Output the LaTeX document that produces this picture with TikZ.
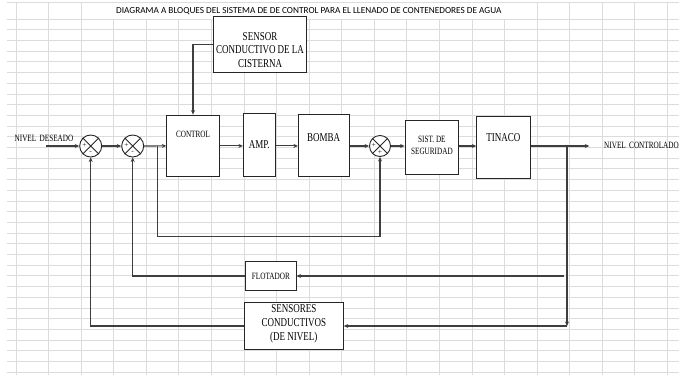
\documentclass[tikz,border=0pt]{standalone}
\usepackage{fontspec}
\setmainfont{Liberation Serif}
\newfontfamily\cnd[FakeStretch=0.75]{Liberation Serif}
\newfontfamily\ttl{Carlito}
\usetikzlibrary{arrows.meta,calc}
\definecolor{gridc}{RGB}{218,220,223}
\definecolor{linec}{RGB}{62,62,62}
\begin{document}
\begin{tikzpicture}[x=1pt,y=-1pt,
  blk/.style={draw=black!85,line width=0.9pt,inner sep=0pt,fill=white},
  lbl/.style={font=\cnd\fontsize{12}{13.6}\selectfont,align=center,inner sep=0pt},
  sml/.style={font=\cnd\fontsize{9.6}{12.2}\selectfont,align=center,inner sep=0pt},
  sumj/.style={draw=black!85,line width=0.9pt,circle,minimum size=22pt,inner sep=0pt,fill=white},
  conn/.style={draw=linec,line width=1.1pt},
  arr/.style={conn,-{Stealth[length=4.5pt,width=4pt]}},
  sgn/.style={font=\fontsize{7.5}{7.5}\selectfont,inner sep=0pt,text=black!90}
]
\fill[white] (0,0) rectangle (679,375);
\useasboundingbox (0,0) rectangle (679,375);
% spreadsheet grid
\draw[gridc,line width=0.8pt] (7,2.7) -- (679,2.7);
\foreach \k in {0,...,33} \draw[gridc,line width=0.8pt] (7,19+10.7*\k) -- (679,19+10.7*\k);
\foreach \k in {0,1,2} \draw[gridc,line width=0.8pt] (16+32.57*\k,2.7) -- (16+32.57*\k,375);
\foreach \k in {3,...,15} \draw[gridc,line width=0.8pt] (16+32.57*\k,19) -- (16+32.57*\k,375);
\foreach \k in {16,...,20} \draw[gridc,line width=0.8pt] (16+32.57*\k,2.7) -- (16+32.57*\k,375);
% title
\fill[white] (110,4) rectangle (505,18);
\node[font=\ttl\fontsize{9.25}{10}\selectfont,inner sep=0pt] (title) at (308.8,11.5)
  {DIAGRAMA A BLOQUES DEL SISTEMA DE DE CONTROL PARA EL LLENADO DE CONTENEDORES DE AGUA};
% blocks
\node[blk,minimum width=93.4pt,minimum height=56pt] (sensor) at (260,44.7) {};
\node[lbl] (sensort) at (260,49.7) {SENSOR\\CONDUCTIVO DE LA\\CISTERNA};
\node[blk,minimum width=52.6pt,minimum height=61.7pt] (control) at (193,145.9) {};
\node[sml] (controlt) at (193,134.3) {CONTROL};
\node[blk,minimum width=32pt,minimum height=63.4pt] (amp) at (259.3,145) {};
\node[lbl] (ampt) at (259.3,145) {AMP.};
\node[blk,minimum width=50.7pt,minimum height=62.4pt] (bomba) at (323.7,145.5) {};
\node[lbl] (bombat) at (323.7,137.3) {BOMBA};
\node[blk,minimum width=53.7pt,minimum height=53.3pt] (sist) at (431.9,147.4) {};
\node[sml] (sistt) at (431.9,145.5) {SIST. DE\\SEGURIDAD};
\node[blk,minimum width=53.3pt,minimum height=61.6pt] (tinaco) at (503.4,147.5) {};
\node[lbl] (tinacot) at (503.4,138) {TINACO};
\node[blk,minimum width=50.3pt,minimum height=28.3pt] (flotador) at (270.9,276) {};
\node[sml] (flotadort) at (270.9,276) {FLOTADOR};
\node[blk,minimum width=99pt,minimum height=47.6pt] (sensores) at (293.8,326) {};
\node[lbl] (sensorest) at (293.8,323.8) {SENSORES\\CONDUCTIVOS\\(DE NIVEL)};
% summing junctions
\node[sumj] (s1) at (90.7,146) {};
\node[sumj] (s2) at (132.7,146) {};
\node[sumj,minimum size=21pt] (s3) at (380,146) {};
\foreach \s in {s1,s2,s3}{
  \draw[black!85,line width=0.8pt] (\s.north west) -- (\s.south east);
  \draw[black!85,line width=0.8pt] (\s.north east) -- (\s.south west);
}
\node[sgn] (s1p) at (84.6,145.5) {+};
\node[sgn] (s1m) at (90.7,152.8) {-};
\node[sgn] (s2p) at (126.6,145.5) {+};
\node[sgn] (s2m) at (132.7,152.8) {-};
\node[sgn] (s3p) at (373.8,145.3) {+};
\node[sgn] (s3q) at (380,152.3) {+};
% external labels
\node[sml,anchor=west] (inlbl) at (14.5,138.5) {NIVEL\, DESEADO};
\node[sml,anchor=west] (outlbl) at (604,145) {NIVEL\, CONTROLADO};
% coordinates
\coordinate (in) at (46,146);
\coordinate (out) at (589.3,146);
\coordinate (b1) at (157.3,146);
\coordinate (c1) at (157.3,236.7);
\coordinate (b2) at (567,146);
\coordinate (c2) at (567,326);
\coordinate (f0) at (564.3,276);
% connectors
\draw[arr] (in) -- (s1.west);
\draw[arr] (s1.east) -- (s2.west);
\draw[arr] (s2.east) -- (control.west);
\draw[arr] (control.east) -- (amp.west |- control.east);
\draw[arr] (amp.east |- control.east) -- (bomba.west |- control.east);
\draw[arr] (bomba.east |- s3.west) -- (s3.west);
\draw[arr] (s3.east) -- (sist.west |- s3.east);
\draw[arr] (sist.east |- s3.east) -- (tinaco.west |- s3.east);
\draw[arr] (tinaco.east |- s3.east) -- (out);
\draw[arr] (sensor.west) -| (control.north);
\draw[arr] (b1) -- (c1) -| (s3.south);
\draw[arr] (b2) -- (c2);
\draw[arr] (c2) -- (sensores.east);
\draw[arr] (f0) -- (flotador.east);
\draw[arr] (flotador.west) -| (s2.south);
\draw[arr] (sensores.west) -| (s1.south);
\end{tikzpicture}
\end{document}
